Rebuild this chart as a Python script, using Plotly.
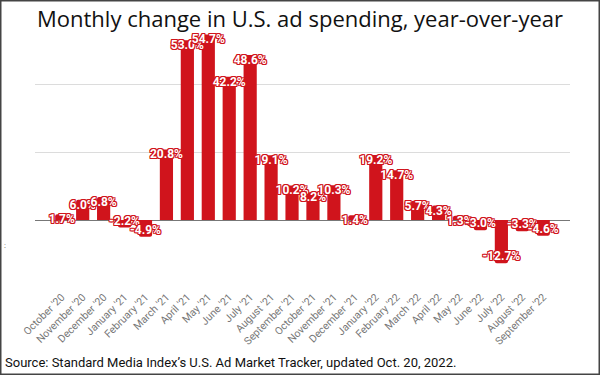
import plotly.graph_objects as go

months = ["October '20", "November '20", "December '20", "January '21", "February '21",
          "March '21", "April '21", "May '21", "June '21", "July '21", "August '21",
          "September '21", "October '21", "November '21", "December '21", "January '22",
          "February '22", "March '22", "April '22", "May '22", "June '22", "July '22",
          "August '22", "September '22"]
change = [1.7, 6.0, 6.8, -2.2, -4.9, 20.8, 53.0, 54.7, 42.2, 48.6, 19.1, 10.2, 8.2,
          10.3, 1.4, 19.2, 14.7, 5.7, 4.3, 1.3, -3.0, -12.7, -3.3, -4.6]
labels = [f"{v:.1f}%" for v in change]

RED = "#D0141C"
W, H = 600, 375
ML, MR, MT, MB = 35, 30, 30, 87
PW, PH = W - ML - MR, H - MT - MB

outline = ", ".join(f"{dx}px {dy}px 0px {RED}" for dx, dy in
                    [(-1, -1), (1, -1), (-1, 1), (1, 1), (0, -1), (0, 1), (-1, 0), (1, 0)])

fig = go.Figure()
fig.add_trace(go.Bar(
    x=months, y=change, marker=dict(color=RED, cornerradius=2, line_width=0),
    hoverinfo="skip", showlegend=False,
))
fig.add_trace(go.Scatter(
    x=months, y=change, mode="text", text=labels,
    textposition=["bottom center" if v >= 0 else "top center" for v in change],
    textfont=dict(family="Roboto", size=12, color="white", shadow=outline, weight="bold"),
    hoverinfo="skip", showlegend=False, cliponaxis=False,
))

def px_x(x):
    return (x - ML) / PW

def px_y(y):
    return (H - MB - y) / PH

fig.update_layout(
    width=W, height=H,
    margin=dict(l=ML, r=MR, t=MT, b=MB),
    paper_bgcolor="white", plot_bgcolor="white",
    bargap=0.37,
    title=dict(text="Monthly change in U.S. ad spending, year-over-year",
               font=dict(family="Open Sans", size=22, color="#111"),
               x=0.5, xanchor="center", y=1 - 19 / H, yanchor="middle"),
    xaxis=dict(tickangle=-45, tickfont=dict(family="Roboto", size=10.5, color="#777"),
               showgrid=False, showline=False, ticks="", fixedrange=True),
    yaxis=dict(range=[-20, 56], dtick=20, showticklabels=False, gridcolor="#dcdcdc",
               gridwidth=1, zeroline=True, zerolinecolor="#777", zerolinewidth=1,
               showline=False, ticks=""),
    annotations=[
        dict(text="Source: Standard Media Index\u2019s U.S. Ad Market Tracker, updated Oct. 20, 2022.",
             xref="paper", yref="paper", x=px_x(3), y=px_y(362), xanchor="left", yanchor="middle",
             showarrow=False, font=dict(family="Roboto", size=13, color="#111")),
        dict(text=":", xref="paper", yref="paper", x=px_x(5), y=px_y(246),
             xanchor="center", yanchor="middle", showarrow=False,
             font=dict(family="Roboto", size=8, color="#555")),
    ],
    shapes=[dict(type="rect", xref="paper", yref="paper",
                 x0=px_x(0.75), x1=px_x(599.25), y0=px_y(374.25), y1=px_y(0.75),
                 line=dict(color="#444", width=1.5), fillcolor="rgba(0,0,0,0)", layer="above")],
)

fig.write_html("out.html", config={"displayModeBar": False},
               post_script="document.body.style.margin='0';document.body.style.overflow='hidden';")
